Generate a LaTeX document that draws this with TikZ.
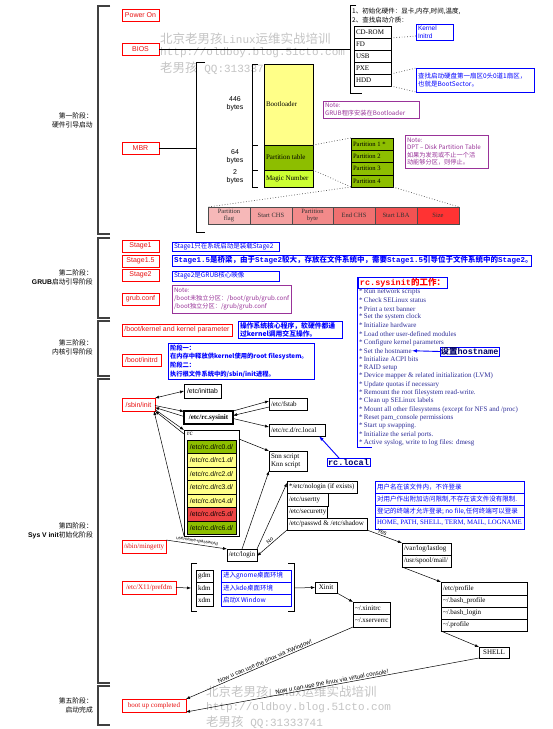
\documentclass[tikz,border=0pt]{standalone}
\usepackage{fontspec}
\setmainfont{Liberation Serif}
\newfontfamily\cjk{Noto Sans CJK SC}
\newfontfamily\arial{Liberation Sans}
\newfontfamily\mono{Liberation Mono}
\usetikzlibrary{arrows.meta,calc}
\newcommand\fsz[2]{\fontsize{#1}{#2}\selectfont}
\definecolor{notepurple}{HTML}{993399}
\definecolor{bootyel}{HTML}{FFFF88}
\definecolor{ptgreen}{HTML}{8DBE00}
\definecolor{magicg}{HTML}{CCFF33}
\definecolor{peA}{HTML}{F6B8B8}
\definecolor{peB}{HTML}{F4A0A0}
\definecolor{peC}{HTML}{F28A8A}
\definecolor{peD}{HTML}{F07070}
\definecolor{peE}{HTML}{F25252}
\definecolor{peF}{HTML}{FF3333}
\definecolor{rcred}{HTML}{EE4444}
\definecolor{itemblue}{HTML}{2E2E99}
\definecolor{wmgray}{HTML}{C4C4C4}
\definecolor{brkgray}{HTML}{404040}
\definecolor{redtxt}{HTML}{E81010}
\tikzset{
 base/.style={inner sep=0pt,outer sep=0pt,line width=0.7pt},
 redb/.style={base,draw=red,line width=0.9pt,text=redtxt,font=\arial\fsz{7}{8}},
 redbs/.style={base,draw=red,line width=0.9pt,text=redtxt,font=\fsz{7}{8}},
 blkb/.style={base,draw=black,font=\fsz{7}{8}},
 blub/.style={base,draw=blue,line width=1pt,text=blue,font=\cjk\fsz{6.5}{8}},
 purb/.style={base,draw=notepurple,line width=0.9pt,text=notepurple,font=\cjk\fsz{6.2}{7.6}},
 pent/.style={base,draw=black!70,line width=0.8pt,text=black!80,font=\fsz{6.5}{7}},
 rci/.style={base,draw=black,line width=1pt,font=\arial\fsz{6.8}{8}},
 stg/.style={inner sep=0pt,font=\cjk\fsz{6.8}{8},anchor=east},
 plain/.style={inner sep=0pt,font=\fsz{7}{8}},
 bytesl/.style={inner sep=0pt,font=\arial\fsz{7}{8},align=center},
 wmk/.style={inner sep=0pt,anchor=west,text=wmgray,font=\mono\fsz{11}{12}},
 brkt/.style={line width=1.2pt,draw=brkgray},
 ln/.style={line width=0.7pt,draw=black},
 arr/.style={line width=0.5pt,-{Latex[length=4pt,width=3pt]}},
 barr/.style={line width=0.5pt,{Latex[length=4pt,width=3pt]}-{Latex[length=4pt,width=3pt]}},
 bluarr/.style={line width=0.9pt,draw=blue,-{Latex[length=5pt,width=3.5pt]}},
 dotl/.style={dotted,line width=0.7pt,draw=black!70},
 itemt/.style={inner sep=0pt,anchor=west,text=itemblue,font=\fsz{7}{8}},
 lbl/.style={inner sep=1pt,font=\arial\fsz{6}{7}},
}
\newcommand\mybox[7]{%
 \pgfmathsetmacro\bw{#5-#3}\pgfmathsetmacro\bh{#6-#4}%
 \node[#1,minimum width=\bw pt,minimum height=\bh pt,align=center] (#2) at ({(#3+#5)/2},{(#4+#6)/2}) {#7};}
\newcommand\mylbox[7]{%
 \pgfmathsetmacro\bw{#5-#3}\pgfmathsetmacro\bh{#6-#4}%
 \node[#1,minimum width=\bw pt,minimum height=\bh pt] (#2) at ({(#3+#5)/2},{(#4+#6)/2}) {};
 \node[#1,draw=none,fill=none,anchor=west,align=left,inner sep=0pt] (#2t) at ([xshift=2pt]#2.west) {#7};}
\begin{document}
\begin{tikzpicture}[x=1pt,y=-1pt]
\useasboundingbox (0,0) rectangle (553,729);
\fill[white] (0,0) rectangle (553,729);
% watermarks
\node[wmk] (wm1) at (160,39) {{\cjk\fsz{12.5}{12}北京老男孩}Linux{\cjk\fsz{12.5}{12}运维实战培训}};
\node[wmk] (wm2) at (160,53) {http://oldboy.blog.51cto.com};
\node[wmk] (wm3) at (160,68) {{\cjk\fsz{12.5}{12}老男孩} QQ:31333741};
\node[wmk] (wm4) at (206,692) {{\cjk\fsz{12.5}{12}北京老男孩}Linux{\cjk\fsz{12.5}{12}运维实战培训}};
\node[wmk] (wm5) at (206,708) {http://oldboy.blog.51cto.com};
\node[wmk] (wm6) at (206,722) {{\cjk\fsz{12.5}{12}老男孩} QQ:31333741};
% stage brackets
\draw[brkt] (110,6) -- (98,6) -- (98,234) -- (110,234);
\draw[brkt] (110,238) -- (98,238) -- (98,318) -- (110,318);
\draw[brkt] (110,321) -- (98,321) -- (98,376) -- (110,376);
\draw[brkt] (110,379) -- (98,379) -- (98,683) -- (110,683);
\draw[brkt] (110,686) -- (98,686) -- (98,725) -- (110,725);
% stage labels
\node[stg] (st1a) at (93,116) {第一阶段：};
\node[stg] (st1b) at (93,125) {硬件引导启动};
\node[stg] (st2a) at (93,273) {第二阶段：};
\node[stg] (st2b) at (93,282) {{\arial\bfseries GRUB}启动引导阶段};
\node[stg] (st3a) at (93,343) {第三阶段：};
\node[stg] (st3b) at (93,352) {内核引导阶段};
\node[stg] (st4a) at (93,526) {第四阶段：};
\node[stg] (st4b) at (93,535) {{\arial\bfseries Sys V init}初始化阶段};
\node[stg] (st5a) at (93,701) {第五阶段：};
\node[stg] (st5b) at (93,710) {启动完成};
% ---------- stage 1
\mybox{redb}{pwr}{122}{9}{159}{21}{Power On}
\mybox{redb}{bios}{122}{43}{159}{55}{BIOS}
\mybox{redb}{mbr}{122}{142}{159}{154}{MBR}
\coordinate (biosj) at (350,49);
\draw[ln] (bios.east) -- (biosj);
\draw[ln,line width=1pt] (356,5) -- (350,5) -- (350,93) -- (362,93);
\node[inner sep=0pt,anchor=west,font=\cjk\fsz{6.5}{7}] (hw1) at (352,11) {1、初始化硬件：显卡,内存,时间,温度,};
\node[inner sep=0pt,anchor=west,font=\cjk\fsz{6.5}{7}] (hw2) at (352,20) {2、查找启动介质：};
\mylbox{blkb,line width=0.9pt}{cd}{354}{26}{391}{38}{CD-ROM}
\mylbox{blkb,line width=0.9pt}{fd}{354}{38}{391}{50}{FD}
\mylbox{blkb,line width=0.9pt}{usb}{354}{50}{391}{62}{USB}
\mylbox{blkb,line width=0.9pt}{pxe}{354}{62}{391}{74}{PXE}
\mylbox{blkb,line width=0.9pt}{hdd}{354}{74}{391}{86}{HDD}
\mylbox{blub,font=\arial\fsz{6.5}{7.5}}{kern}{416}{24}{453}{40}{Kernel\\Initrd}
\mylbox{blub}{bsec}{416}{68}{534}{92}{查找启动硬盘第一扇区0头0道1扇区，\\也就是BootSector。}
\draw[dotl] (cd.south east) -- ([yshift=-4pt]kern.west);
\draw[dotl] (hdd.north east) -- (bsec.north west);
\draw[dotl] (hdd.south east) -- (bsec.south west);
% MBR
\coordinate (mbrj) at (196,148);
\draw[ln] (mbr.east) -- (mbrj);
\draw[ln,line width=1pt] (205,62) -- (196,62) -- (196,232) -- (205,232);
\draw[ln,line width=1pt] (258,64) -- (252,64) -- (252,187) -- (258,187);
\draw[ln,line width=1pt] (252,145) -- (258,145);
\draw[ln,line width=1pt] (252,170) -- (258,170);
\node[bytesl] (b446) at (235,104) {446\\bytes};
\node[bytesl] (b64) at (235,157) {64\\bytes};
\node[bytesl] (b2) at (235,177) {2\\bytes};
\mylbox{blkb,fill=bootyel,line width=0.9pt}{bl}{264}{64}{313}{145}{Bootloader}
\mylbox{blkb,fill=ptgreen,line width=0.9pt}{ptab}{264}{145}{313}{170}{Partition table}
\mylbox{blkb,fill=magicg,line width=0.9pt}{magic}{264}{170}{313}{187}{Magic Number}
\mylbox{purb}{ngrub}{323}{101}{419}{118}{Note:\\GRUB程序安装在Bootloader}
\mylbox{blkb,fill=ptgreen,line width=0.9pt,font=\fsz{6.6}{7}}{p1}{351}{138}{393}{150}{Partition 1 *}
\mylbox{blkb,fill=ptgreen,line width=0.9pt,font=\fsz{6.6}{7}}{p2}{351}{150}{393}{162}{Partition 2}
\mylbox{blkb,fill=ptgreen,line width=0.9pt,font=\fsz{6.6}{7}}{p3}{351}{162}{393}{175}{Partition 3}
\mylbox{blkb,fill=ptgreen,line width=0.9pt,font=\fsz{6.6}{7}}{p4}{351}{175}{393}{187}{Partition 4}
\mylbox{purb}{ndpt}{405}{135}{488}{168}{Note:\\DPT – Disk Partition Table\\如果为发现或不止一个活\\动能够分区，则停止。}
\mybox{pent,fill=peA}{pflag}{208}{207}{250}{224}{Partition\\flag}
\mybox{pent,fill=peB}{pschs}{250}{207}{292}{224}{Start CHS}
\mybox{pent,fill=peC}{pbyte}{292}{207}{333}{224}{Partition\\byte}
\mybox{pent,fill=peD}{pechs}{333}{207}{375}{224}{End CHS}
\mybox{pent,fill=peE}{plba}{375}{207}{417}{224}{Start LBA}
\mybox{pent,fill=peF}{psize}{417}{207}{459}{224}{Size}
\draw[dotl] (ptab.north east) -- (p1.north west);
\draw[dotl] (ptab.south east) -- (p4.south west);
\draw[dotl] (p4.south west) -- (pflag.north west);
\draw[dotl] (p4.south east) -- (psize.north east);
% ---------- stage 2
\mybox{redb}{stg1}{122}{240}{159}{252}{Stage1}
\mybox{redb}{stg15}{122}{255}{159}{267}{Stage1.5}
\mybox{redb}{stg2}{122}{269}{159}{281}{Stage2}
\mybox{redb}{grubc}{122}{293}{159}{305}{grub.conf}
\mylbox{blub}{s1d}{172}{242}{279}{251}{Stage1只在系统启动是装载Stage2}
\mylbox{blub,font=\cjk\bfseries\fsz{7.5}{8}}{s15d}{172}{255}{531}{266}{{\mono\bfseries Stage1.5}是桥梁，由于{\mono\bfseries Stage2}较大，存放在文件系统中，需要{\mono\bfseries Stage1.5}引导位于文件系统中的{\mono\bfseries Stage2}。}
\mylbox{blub}{s2d}{172}{271}{279}{281}{Stage2是GRUB核心映像}
\mylbox{purb}{gnote}{172}{285}{291}{313}{Note:\\/boot未独立分区：/boot/grub/grub.conf\\/boot独立分区：/grub/grub.conf}
% ---------- stage 3
\mybox{redb}{kpar}{122}{324}{232}{336}{/boot/kernel and kernel parameter}
\mybox{redb}{initrd}{122}{354}{161}{366}{/boot/initrd}
\mylbox{blub,font=\cjk\bfseries\fsz{6.8}{8}}{kdesc}{238}{321}{342}{338}{操作系统核心程序，软硬件都通\\过kernel调用交互操作。}
\mylbox{blub,font=\cjk\bfseries\fsz{6.3}{8.6}}{idesc}{168}{343}{314}{379}{阶段一：\\在内存中释放供kernel使用的root filesystem。\\阶段二：\\执行根文件系统中的/sbin/init进程。}
% ---------- rc.sysinit list
\draw[line width=1pt,blue] (372,277) -- (357,277) -- (357,447) -- (372,447);
\mybox{base,draw=blue,fill=white,line width=1pt,text=red,font=\cjk\bfseries\fsz{8.5}{9}}{rctitle}{358}{277}{447}{288}{{\mono\bfseries rc.sysinit}的工作：}
\foreach \t [count=\i] in {Run network scripts,Check SELinux status,Print a text banner,Set the system clock,Initialize hardware,Load other user-defined modules,Configure kernel parameters,Set the hostname,Initialize ACPI bits,RAID setup,Device mapper \& related initialization (LVM),Update quotas if necessary,Remount the root filesystem read-write.,Clean up SELinux labels,Mount all other filesystems (except for NFS and /proc),Reset pam\_console permissions,Start up swapping.,Initialize the serial ports.,{Active syslog, write to log files: dmesg}}
 {\node[itemt] (it\i) at (359,{292+(\i-1)*8.39}) {*\,\t};}
\mybox{base,draw=blue,line width=1pt,text=blue!40!black,font=\cjk\bfseries\fsz{8.5}{9}}{hostb}{440}{347}{499}{356}{设置{\mono\bfseries hostname}}
\draw[bluarr] (hostb.west) -- (it8.east);
% ---------- stage 4
\mybox{redb}{init}{122}{398}{155}{411}{/sbin/init}
\mybox{blkb,line width=0.9pt,font=\arial\fsz{6.8}{8}}{inittab}{184}{384}{221}{398}{/etc/inittab}
\mybox{blkb,line width=1.3pt,font=\bfseries\fsz{7}{8}}{sysinit}{184}{411}{233}{424}{/etc/rc.sysinit}
\mylbox{blkb,line width=0.9pt}{fstab}{269}{398}{307}{410}{/etc/fstab}
\mylbox{blkb,line width=0.9pt}{rclocal}{269}{424}{325}{436}{/etc/rc.d/rc.local}
\mylbox{blkb,line width=0.9pt}{snn}{269}{451}{307}{471}{Snn script\\Knn script}
\node[base,draw=black,line width=1pt,minimum width=55pt,minimum height=106pt] (rcbox) at (211.5,483) {};
\node[plain,anchor=north west] (rclab) at (187,432) {rc};
\foreach \col [count=\i from 0] in {ptgreen,bootyel,bootyel,bootyel,bootyel,rcred,ptgreen}
 {\pgfmathsetmacro\ya{440+\i*13.5}\pgfmathsetmacro\yb{\ya+13.5}\mybox{rci,fill=\col}{rc\i}{187}{\ya}{236}{\yb}{/etc/rc.d/rc\i.d/}}
\mybox{base,draw=blue,line width=1pt,text=blue!40!black,font=\mono\bfseries\fsz{8.5}{9}}{rclb}{327}{458}{370}{466}{rc.local}
\draw[bluarr] ([xshift=12pt]rclb.north west) -- ([xshift=-6pt]rclocal.south east);
\draw[barr] (init.north east) -- (inittab.west);
\draw[arr] ([yshift=-1pt]init.east) -- ([yshift=6pt]sysinit.west);
\draw[arr] ([yshift=1pt]sysinit.west) -- ([yshift=-3pt]init.east);
\draw[arr] ([yshift=-5pt]init.east) -- (rcbox.north west);
\draw[arr] ([yshift=-4pt]rcbox.north west) -- (init.south east);
\draw[arr] (rcbox.south west) -- ([xshift=-1pt]init.south east);
\draw[arr] (sysinit.north east) -- ([yshift=3pt]fstab.west);
\draw[arr] ([yshift=-3pt]fstab.west) -- ([yshift=2pt]sysinit.east);
\draw[arr] ([yshift=-1pt]sysinit.east) -- ([yshift=3pt]rclocal.west);
\draw[arr] ([yshift=-9pt]rcbox.north east) -- (snn.north west);
% login
\mybox{redbs}{mingetty}{122}{540}{166}{553}{/sbin/mingetty}
\mybox{blkb,line width=0.9pt}{login}{227}{549}{257}{561}{/etc/login}
\draw[arr] (login.north) -- (snn.south west);
\draw[arr] (mingetty.north east) -- (login.north west) node[sloped,above,pos=0.5,lbl,font=\arial\fsz{4.5}{5}] {username+password};
\mylbox{blkb,line width=1pt}{nologin}{287}{481}{357}{493}{*/etc/nologin (if exists)}
\mylbox{blkb,line width=0.9pt}{usertty}{287}{493}{328}{506}{/etc/usertty}
\mylbox{blkb,line width=0.9pt}{securetty}{287}{506}{327}{518}{/etc/securetty}
\mylbox{blkb,line width=1pt}{passwd}{287}{518}{367}{530}{/etc/passwd \& /etc/shadow}
\draw[arr] (login.north east) -- ([yshift=4pt]nologin.west);
\draw[arr] (passwd.south west) -- ([yshift=-1pt]login.east) node[sloped,above,pos=0.5,lbl,font=\arial\fsz{5.5}{6}] {No};
\mylbox{blub}{ut1}{375}{481}{524}{493}{用户名在该文件内，不许登录}
\mylbox{blub}{ut2}{375}{493}{524}{505}{对用户作出附加访问限制,不存在该文件没有限制.}
\mylbox{blub}{ut3}{375}{505}{524}{517}{登记的终端才允许登录; no file,任何终端可以登录}
\mylbox{blub,font=\fsz{6.8}{8}}{ut4}{375}{517}{524}{529}{HOME, PATH, SHELL, TERM, MAIL, LOGNAME}
\mylbox{blkb,line width=0.9pt}{lastlog}{402}{543}{451}{555}{/var/log/lastlog}
\mylbox{blkb,line width=0.9pt}{mail}{402}{555}{451}{567}{/usr/spool/mail/}
\draw[arr] (passwd.south east) -- (lastlog.north west) node[sloped,above,pos=0.4,lbl] {Yes};
\mylbox{blkb,line width=0.9pt}{prof}{441}{582}{527}{595}{/etc/profile}
\mylbox{blkb,line width=0.9pt}{bprof}{441}{595}{527}{607}{\textasciitilde/.bash\_profile}
\mylbox{blkb,line width=0.9pt}{blogin}{441}{607}{527}{619}{\textasciitilde/.bash\_login}
\mylbox{blkb,line width=0.9pt}{hprof}{441}{619}{527}{631}{\textasciitilde/.profile}
\draw[arr] (mail.south west) -- (prof.north west);
\mybox{blkb,line width=1pt}{shell}{479}{647}{509}{658}{SHELL}
\draw[arr] (hprof.south west) -- (shell.north west);
% X
\mybox{redbs}{prefdm}{122}{581}{176}{594}{/etc/X11/prefdm}
\draw[ln] (197,563) -- (191,563) -- (191,611) -- (197,611);
\draw[ln] (288,563) -- (294,563) -- (294,611) -- (288,611);
\mylbox{blkb,line width=0.9pt}{gdm}{196}{570}{213}{582}{gdm}
\mylbox{blkb,line width=0.9pt}{kdm}{196}{582}{213}{594}{kdm}
\mylbox{blkb,line width=0.9pt}{xdm}{196}{594}{213}{606}{xdm}
\mylbox{blub}{gdmd}{221}{570}{291}{582}{进入gnome桌面环境}
\mylbox{blub}{kdmd}{221}{582}{291}{594}{进入kde桌面环境}
\mylbox{blub}{xdmd}{221}{594}{291}{606}{启动X Window}
\coordinate (xl) at (191,588);
\coordinate (xr) at (294,588);
\draw[arr] (prefdm.east) -- (xl);
\mybox{blkb,line width=0.9pt}{xinit}{315}{582}{337}{593}{Xinit}
\draw[arr] (xr) -- (xinit.west);
\mylbox{blkb,line width=0.9pt}{xinitrc}{353}{602}{390}{614}{\textasciitilde/.xinitrc}
\mylbox{blkb,line width=0.9pt}{xserverrc}{353}{614}{390}{627}{\textasciitilde/.xserverrc}
\draw[arr] (xinit.south east) -- (xinitrc.north west);
% stage 5
\mybox{redbs}{bootup}{122}{699}{186}{712}{boot up completed}
\draw[arr] (xserverrc.south west) -- (bootup.north east) node[sloped,above,pos=0.52,lbl] {Now u can use the linux via XWindow!};
\draw[arr] (shell.south west) -- (bootup.south east) node[sloped,above,pos=0.5,lbl] {Now u can use the linux via virtual console!};
\end{tikzpicture}
\end{document}
